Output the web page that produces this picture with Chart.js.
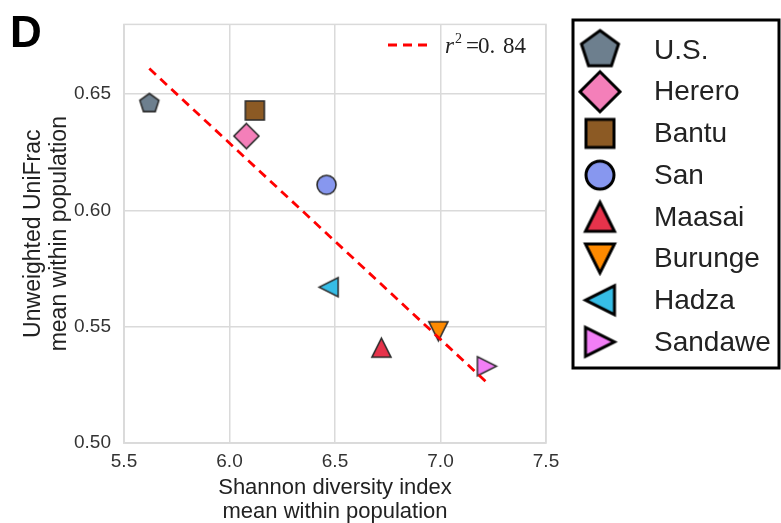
<!DOCTYPE html>
<html>
<head>
<meta charset="utf-8">
<script src="https://cdn.jsdelivr.net/npm/chart.js@4/dist/chart.umd.min.js"></script>
<style>
  html, body { margin: 0; padding: 0; background: #fff; }
  canvas { display: block; }
</style>
</head>
<body>
<canvas id="diversityChart" width="781" height="523"></canvas>
<script>
// population means: Shannon diversity (x) against unweighted UniFrac (y)
const populations = ['U.S.', 'Herero', 'Bantu', 'San', 'Maasai', 'Burunge', 'Hadza', 'Sandawe'];
const shannon = [5.62, 6.08, 6.12, 6.46, 6.72, 6.99, 6.47, 7.22];
const unifrac = [0.646, 0.632, 0.643, 0.611, 0.541, 0.548, 0.567, 0.533];

// fitted line end points
const fitX = [5.62, 7.22];
const fitY = [0.661, 0.526];
const fitLabel = '0.84';

const xTicks = [5.5, 6.0, 6.5, 7.0, 7.5];
const yTicks = [0.50, 0.55, 0.60, 0.65];

// marker look for each population
const markerColors = ['#6d7f8e', '#f47fb9', '#8c5a24', '#8797ef', '#e6334b', '#ff8a00', '#36bde6', '#f27ef6'];
const markerShapes = ['pentagon', 'diamond', 'square', 'circle', 'triangle', 'triangle', 'triangle', 'triangle'];
const markerRotation = [0, 0, 0, 0, 0, 180, -90, 90];
const plotSize = [20, 25, 19, 19, 19, 19, 19, 19];
const legendSize = [39, 40, 28, 28, 29, 29, 29, 29];

const FONT = 'Liberation Sans, Arial, Helvetica, sans-serif';
const gridColor = '#dadada';
Chart.defaults.font.family = FONT;

// draws one marker onto its own little canvas so it can be used as a pointStyle
function markerImage(shape, size, fill, lw, edge) {
  const pad = lw + 2;
  const dim = Math.ceil(size + 2 * pad);
  const c = document.createElement('canvas');
  c.width = dim;
  c.height = dim;
  const g = c.getContext('2d');
  const m = dim / 2, h = size / 2;
  g.beginPath();
  if (shape === 'pentagon') {
    for (let i = 0; i < 5; i++) {
      const a = -Math.PI / 2 + i * 2 * Math.PI / 5;
      const px = m + h * Math.cos(a), py = m + h * Math.sin(a);
      if (i === 0) g.moveTo(px, py); else g.lineTo(px, py);
    }
  } else if (shape === 'diamond') {
    g.moveTo(m, m - h); g.lineTo(m + h, m); g.lineTo(m, m + h); g.lineTo(m - h, m);
  } else if (shape === 'square') {
    g.rect(m - h, m - h, size, size);
  } else if (shape === 'circle') {
    g.arc(m, m, h, 0, Math.PI * 2);
  } else {
    g.moveTo(m, m - h); g.lineTo(m + h, m + h); g.lineTo(m - h, m + h);
  }
  g.closePath();
  g.fillStyle = fill;
  g.fill();
  g.lineWidth = lw;
  g.lineJoin = 'miter';
  g.strokeStyle = edge;
  g.stroke();
  return c;
}

const plotMarkers = populations.map((p, i) => markerImage(markerShapes[i], plotSize[i], markerColors[i], 1.6, '#2b2b2b'));
const legendMarkers = populations.map((p, i) => markerImage(markerShapes[i], legendSize[i], markerColors[i], 3, '#000'));

const datasets = [{
  type: 'line',
  label: 'fit',
  data: fitX.map((x, i) => ({ x: x, y: fitY[i] })),
  borderColor: '#ff0000',
  borderWidth: 2.8,
  borderDash: [9, 6],
  pointRadius: 0,
  fill: false
}].concat(populations.map((name, i) => ({
  type: 'scatter',
  label: name,
  data: [{ x: shannon[i], y: unifrac[i] }],
  pointStyle: plotMarkers[i],
  rotation: markerRotation[i],
  pointRotation: markerRotation[i],
  pointRadius: 10,
  pointHoverRadius: 10
})));

// light frame round the plotting area
const frame = {
  id: 'frame',
  beforeDatasetsDraw(chart) {
    const { ctx, chartArea: a } = chart;
    ctx.save();
    ctx.strokeStyle = gridColor;
    ctx.lineWidth = 1.5;
    ctx.strokeRect(a.left, a.top, a.right - a.left, a.bottom - a.top);
    ctx.restore();
  }
};

// panel letter, fit legend and the boxed population legend
const annotations = {
  id: 'annotations',
  afterDraw(chart) {
    const ctx = chart.ctx;
    ctx.save();

    ctx.fillStyle = '#000';
    ctx.font = 'bold 44px ' + FONT;
    ctx.textBaseline = 'alphabetic';
    ctx.fillText('D', 10, 47);

    // r^2 legend entry
    ctx.strokeStyle = '#ff0000';
    ctx.lineWidth = 2.8;
    ctx.setLineDash([9, 6]);
    ctx.beginPath();
    ctx.moveTo(388, 45);
    ctx.lineTo(428, 45);
    ctx.stroke();
    ctx.setLineDash([]);
    ctx.fillStyle = '#222';
    ctx.font = 'italic 23px Liberation Serif, serif';
    ctx.fillText('r', 445, 53);
    ctx.font = '14px Liberation Serif, serif';
    ctx.fillText('2', 455, 43);
    ctx.font = '23px Liberation Serif, serif';
    ctx.fillText('=', 466, 53);
    ctx.fillText(fitLabel.slice(0, 2), 478, 53);
    ctx.fillText(fitLabel.slice(2), 503, 53);

    // population legend
    ctx.strokeStyle = '#000';
    ctx.lineWidth = 3;
    ctx.strokeRect(573, 20, 206, 348);
    ctx.font = '28px ' + FONT;
    ctx.textBaseline = 'middle';
    ctx.fillStyle = '#222';
    populations.forEach((name, i) => {
      const y = 50 + i * 41.7;
      const img = legendMarkers[i];
      ctx.save();
      ctx.translate(600, y);
      ctx.rotate(markerRotation[i] * Math.PI / 180);
      ctx.drawImage(img, -img.width / 2, -img.height / 2);
      ctx.restore();
      ctx.fillText(name, 654, y + 1);
    });
    ctx.restore();
  }
};

new Chart(document.getElementById('diversityChart'), {
  type: 'scatter',
  data: { datasets: datasets },
  plugins: [frame, annotations],
  options: {
    responsive: false,
    animation: false,
    devicePixelRatio: 1,
    layout: { padding: { top: 18, right: 235, left: 0, bottom: 0 } },
    plugins: {
      legend: { display: false },
      tooltip: { enabled: false }
    },
    scales: {
      x: {
        type: 'linear',
        min: 5.5,
        max: 7.5,
        afterBuildTicks: s => { s.ticks = xTicks.map(v => ({ value: v })); },
        afterFit: s => { s.height = 80; },
        grid: { color: gridColor, lineWidth: 1.5, drawTicks: false },
        border: { color: gridColor, width: 1.5 },
        ticks: { padding: 7, color: '#333', font: { size: 19 }, callback: v => v.toFixed(1) },
        title: {
          display: true,
          text: ['Shannon diversity index', 'mean within population'],
          color: '#222',
          font: { size: 22, lineHeight: 1.05 },
          padding: { top: 0, bottom: 0 }
        }
      },
      y: {
        type: 'linear',
        min: 0.5,
        max: 0.68,
        afterBuildTicks: s => { s.ticks = yTicks.map(v => ({ value: v })); },
        afterFit: s => { s.width = 124; },
        grid: { color: gridColor, lineWidth: 1.5, drawTicks: false },
        border: { color: gridColor, width: 1.5 },
        ticks: { padding: 13, color: '#333', font: { size: 19 }, callback: v => v.toFixed(2) },
        title: {
          display: true,
          text: ['Unweighted UniFrac', 'mean within population'],
          color: '#222',
          font: { size: 23, lineHeight: 1.15 },
          padding: { top: 20, bottom: 0 }
        }
      }
    }
  }
});
</script>
</body>
</html>
